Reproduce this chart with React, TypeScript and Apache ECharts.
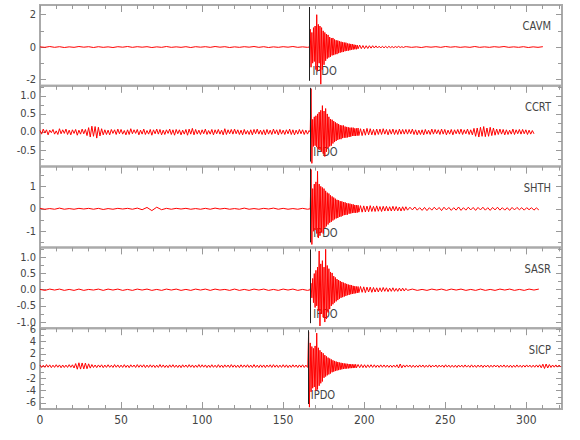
import React, { useEffect, useRef } from "react";
import * as echarts from "echarts";

// ---------- data ----------
const stations = ["CAVM", "CCRT", "SHTH", "SASR", "SICP"];
const pickName = "IPDO";
const pickTimes = [166.2, 166.7, 166.7, 166.7, 165.2];
const traceEnds = [311, 305, 308, 308, 322];
const preSteps = [3, 1, 3, 3, 1];
const postSteps = [3, 1, 1.5, 3, 1];
const eventStep = 0.5;
const codaStep = 1;
const eventSpan = 30;
const codaSpan = 30;

const xMin = 0;
const xMax = 322;
const xMajorTicks = [0, 50, 100, 150, 200, 250, 300];
const xMinorTicks = [10, 20, 30, 40, 60, 70, 80, 90, 110, 120, 130, 140, 160, 170, 180, 190, 210, 220, 230, 240, 260, 270, 280, 290, 310, 320];

const yMins = [-2.4, -0.96, -1.72, -1.19, -7.0];
const yMaxs = [2.6, 1.28, 1.88, 1.31, 6.2];
const yMajorTicks = [[-2, 0, 2], [-0.5, 0, 0.5, 1], [-1, 0, 1], [-1, -0.5, 0, 0.5, 1], [-6, -4, -2, 0, 2, 4, 6]];
const yMinorTicks = [[-1, 1], [-0.75, -0.25, 0.25, 0.75, 1.25], [-1.5, -0.5, 0.5, 1.5], [-0.75, -0.25, 0.25, 0.75, 1.25], [-5, -3, -1, 1, 3, 5]];
const yLabelDecimals = [0, 1, 0, 1, 0];

// CAVM
const cavmPre = [0.01, -0.02, 0.03, -0.02, 0.02, -0.03, 0.01, -0.02, 0.03, -0.01, 0.02, -0.03, 0.02, -0.02, 0.01, -0.03, 0.02, -0.01, 0.03, -0.02, 0.02, -0.01, 0.02, -0.03, 0.01, -0.02, 0.03, -0.02, 0.01, -0.02, 0.02, -0.03, 0.02, -0.01, 0.02, -0.02, 0.03, -0.01, 0.02, -0.03, 0.01, -0.02, 0.02, -0.01, 0.03, -0.02, 0.02, -0.03, 0.01, -0.02, 0.02, -0.01, 0.03, -0.02, 0.01, -0.02];
const cavmEvent = [0, 1.1, -1.25, 0.9, -1.0, 1.2, -0.9, 1.3, -1.4, 2.0, -1.5, 1.4, -1.0, 1.3, -2.3, 1.2, -1.4, 1.0, -1.1, 0.9, -0.85, 0.8, -0.72, 0.75, -0.65, 0.62, -0.6, 0.55, -0.52, 0.56, -0.5, 0.47, -0.45, 0.42, -0.44, 0.4, -0.38, 0.36, -0.35, 0.33, -0.32, 0.3, -0.31, 0.28, -0.26, 0.27, -0.24, 0.22, -0.23, 0.21, -0.2, 0.19, -0.17, 0.18, -0.16, 0.15, -0.14, 0.13, -0.14, 0.12];
const cavmCoda = [-0.11, 0.12, -0.1, 0.09, -0.1, 0.08, -0.09, 0.08, -0.07, 0.08, -0.06, 0.07, -0.06, 0.05, -0.06, 0.05, -0.05, 0.04, -0.05, 0.04, -0.04, 0.03, -0.04, 0.03, -0.03, 0.04, -0.03, 0.02, -0.03, 0.02];
const cavmPost = [0.02, -0.02, 0.01, -0.03, 0.02, -0.01, 0.02, -0.02, 0.03, -0.01, 0.02, -0.02, 0.01, -0.02, 0.03, -0.02, 0.01, -0.02, 0.02, -0.01, 0.03, -0.02, 0.01, -0.02, 0.02, -0.03, 0.01, -0.02, 0.02];

// CCRT
const ccrtPre = [
  0.04, -0.06, 0.08, -0.03, 0.06, -0.08, 0.05, -0.02, 0.07, -0.06,
  0.03, -0.07, 0.09, -0.05, 0.06, -0.04, 0.08, -0.07, 0.05, -0.08,
  0.06, -0.04, 0.07, -0.09, 0.05, -0.06, 0.08, -0.05, 0.07, -0.1,
  0.12, -0.14, 0.16, -0.12, 0.15, -0.17, 0.13, -0.11, 0.09, -0.08,
  0.06, -0.07, 0.05, -0.08, 0.07, -0.04, 0.06, -0.07, 0.08, -0.05,
  0.07, -0.06, 0.04, -0.08, 0.06, -0.07, 0.09, -0.05, 0.06, -0.04,
  0.07, -0.08, 0.05, -0.06, 0.08, -0.07, 0.04, -0.06, 0.07, -0.09,
  0.06, -0.05, 0.08, -0.06, 0.07, -0.08, 0.05, -0.07, 0.06, -0.04,
  0.08, -0.07, 0.06, -0.09, 0.07, -0.05, 0.06, -0.08, 0.05, -0.06,
  0.07, -0.09, 0.08, -0.06, 0.1, -0.08, 0.07, -0.06, 0.05, -0.07,
  0.06, -0.05, 0.08, -0.07, 0.04, -0.06, 0.07, -0.08, 0.06, -0.05,
  0.07, -0.06, 0.05, -0.08, 0.09, -0.07, 0.06, -0.05, 0.07, -0.06,
  0.08, -0.05, 0.06, -0.07, 0.05, -0.08, 0.07, -0.06, 0.04, -0.07,
  0.06, -0.08, 0.07, -0.05, 0.08, -0.06, 0.05, -0.07, 0.06, -0.08,
  0.07, -0.06, 0.05, -0.07, 0.08, -0.05, 0.06, -0.08, 0.07, -0.06,
  0.05, -0.07, 0.06, -0.05, 0.08, -0.07, 0.06, -0.08, 0.05, -0.06,
  0.07, -0.05, 0.06, -0.07, 0.05, -0.06, 0.04,
];
const ccrtEvent = [0, 1.2, -0.87, 0.35, -0.4, 0.42, -0.38, 0.45, -0.42, 0.5, -0.48, 0.55, -0.5, 0.6, -0.55, 0.73, -0.6, 0.58, -0.68, 0.65, -0.55, 0.5, -0.45, 0.42, -0.4, 0.36, -0.38, 0.34, -0.32, 0.3, -0.28, 0.27, -0.25, 0.24, -0.22, 0.22, -0.2, 0.19, -0.2, 0.18, -0.17, 0.18, -0.16, 0.15, -0.16, 0.14, -0.15, 0.13, -0.14, 0.12, -0.13, 0.12, -0.11, 0.12, -0.11, 0.1, -0.11, 0.1, -0.1, 0.11];
const ccrtCoda = [-0.1, 0.09, -0.1, 0.08, -0.09, 0.1, -0.08, 0.09, -0.08, 0.07, -0.09, 0.08, -0.07, 0.08, -0.07, 0.09, -0.06, 0.07, -0.08, 0.07, -0.06, 0.08, -0.07, 0.06, -0.07, 0.08, -0.06, 0.07, -0.06, 0.07];
const ccrtPost = [
  -0.06, 0.07, -0.05, 0.08, -0.07, 0.06, -0.08, 0.05, -0.07, 0.06,
  -0.08, 0.07, -0.06, 0.05, -0.07, 0.08, -0.06, 0.07, -0.05, 0.06,
  -0.07, 0.08, -0.06, 0.07, -0.08, 0.05, -0.06, 0.07, -0.08, 0.06,
  -0.05, 0.07, -0.06, 0.08, -0.07, 0.06, -0.05, 0.08, -0.07, 0.06,
  -0.08, 0.1, -0.12, 0.11, -0.14, 0.13, -0.12, 0.15, -0.13, 0.11,
  -0.12, 0.13, -0.1, 0.11, -0.09, 0.08, -0.07, 0.08, -0.06, 0.07,
  -0.08, 0.06, -0.07, 0.05, -0.06, 0.08, -0.07, 0.06, -0.05, 0.07,
  -0.06, 0.07, -0.05, 0.06, -0.07, 0.05, -0.06, 0.04, -0.05,
];

// SHTH
const shthPre = [0.02, -0.02, 0.01, -0.02, 0.03, -0.02, 0.01, -0.02, 0.02, -0.01, 0.02, -0.02, 0.02, -0.03, 0.01, -0.02, 0.02, -0.01, 0.02, -0.02, 0.03, -0.04, 0.06, -0.08, 0.07, -0.04, 0.02, -0.02, 0.02, -0.01, 0.02, -0.02, 0.01, -0.02, 0.02, -0.02, 0.03, -0.01, 0.02, -0.02, 0.01, -0.02, 0.03, -0.02, 0.01, -0.02, 0.02, -0.01, 0.03, -0.02, 0.02, -0.02, 0.01, -0.02, 0.02, -0.02];
const shthEvent = [0, 1.75, -1.59, 0.9, -1.0, 1.1, -0.95, 1.2, -1.1, 1.67, -1.3, 1.1, -1.2, 1.0, -1.05, 0.95, -1.1, 0.9, -0.85, 0.8, -0.78, 0.72, -0.7, 0.68, -0.62, 0.6, -0.58, 0.55, -0.52, 0.5, -0.47, 0.45, -0.43, 0.4, -0.41, 0.38, -0.36, 0.34, -0.35, 0.33, -0.31, 0.3, -0.28, 0.29, -0.27, 0.25, -0.26, 0.24, -0.22, 0.23, -0.21, 0.2, -0.19, 0.2, -0.18, 0.17, -0.18, 0.16, -0.17, 0.16];
const shthCoda = [-0.15, 0.14, -0.15, 0.13, -0.14, 0.12, -0.13, 0.14, -0.12, 0.11, -0.12, 0.13, -0.11, 0.1, -0.12, 0.11, -0.1, 0.11, -0.1, 0.09, -0.1, 0.11, -0.09, 0.1, -0.09, 0.08, -0.1, 0.09, -0.08, 0.09];
const shthPost = [
  -0.06, 0.07, -0.05, 0.08, -0.06, 0.05, -0.07, 0.06, -0.08, 0.05,
  -0.06, 0.07, -0.05, 0.06, -0.08, 0.07, -0.05, 0.06, -0.07, 0.05,
  -0.06, 0.08, -0.07, 0.05, -0.06, 0.07, -0.05, 0.06, -0.07, 0.06,
  -0.05, 0.07, -0.06, 0.05, -0.07, 0.06, -0.05, 0.07, -0.06, 0.05,
  -0.06, 0.05, -0.07, 0.06, -0.05, 0.06, -0.04, 0.05, -0.06, 0.05,
  -0.04, 0.05, -0.06, 0.04, -0.05,
];

// SASR
const sasrPre = [0.01, -0.02, 0.02, -0.01, 0.02, -0.02, 0.01, -0.02, 0.02, -0.02, 0.01, -0.01, 0.02, -0.02, 0.02, -0.01, 0.02, -0.02, 0.01, -0.02, 0.02, -0.01, 0.02, -0.02, 0.01, -0.02, 0.02, -0.01, 0.02, -0.02, 0.01, -0.02, 0.02, -0.01, 0.02, -0.02, 0.02, -0.01, 0.01, -0.02, 0.02, -0.02, 0.01, -0.02, 0.02, -0.01, 0.02, -0.02, 0.01, -0.02, 0.02, -0.01, 0.02, -0.02, 0.01, -0.02];
const sasrEvent = [0, 0.2, -0.25, 0.35, -0.4, 0.5, -0.55, 0.6, -0.5, 0.7, -0.65, 1.2, -1.12, 0.8, -0.75, 0.9, -0.85, 0.7, -1.0, 1.25, -0.9, 0.75, -0.7, 0.65, -0.6, 0.55, -0.5, 0.52, -0.45, 0.42, -0.4, 0.38, -0.36, 0.33, -0.32, 0.3, -0.28, 0.27, -0.25, 0.24, -0.23, 0.22, -0.21, 0.2, -0.19, 0.18, -0.17, 0.16, -0.16, 0.15, -0.14, 0.14, -0.13, 0.12, -0.12, 0.11, -0.11, 0.1, -0.1, 0.1];
const sasrCoda = [-0.09, 0.1, -0.08, 0.09, -0.09, 0.08, -0.07, 0.08, -0.08, 0.07, -0.07, 0.06, -0.07, 0.06, -0.06, 0.07, -0.05, 0.06, -0.06, 0.05, -0.05, 0.06, -0.05, 0.04, -0.05, 0.05, -0.04, 0.05, -0.04, 0.04];
const sasrPost = [-0.02, 0.02, -0.02, 0.01, -0.02, 0.02, -0.01, 0.02, -0.02, 0.02, -0.01, 0.02, -0.02, 0.01, -0.02, 0.02, -0.02, 0.01, -0.02, 0.02, -0.01, 0.02, -0.02, 0.01, -0.02, 0.02, -0.01, 0.02];

// SICP
const sicpPre = [
  0.18, -0.22, 0.15, -0.2, 0.25, -0.17, 0.21, -0.24, 0.16, -0.2,
  0.23, -0.18, 0.2, -0.26, 0.19, -0.22, 0.17, -0.21, 0.24, -0.19,
  0.22, -0.3, 0.42, -0.5, 0.55, -0.48, 0.52, -0.45, 0.5, -0.42,
  0.38, -0.32, 0.26, -0.22, 0.19, -0.24, 0.2, -0.17, 0.22, -0.25,
  0.18, -0.2, 0.23, -0.19, 0.16, -0.22, 0.25, -0.18, 0.2, -0.23,
  0.17, -0.21, 0.24, -0.2, 0.18, -0.25, 0.22, -0.16, 0.19, -0.22,
  0.25, -0.19, 0.21, -0.17, 0.23, -0.24, 0.18, -0.2, 0.22, -0.18,
  0.2, -0.23, 0.17, -0.21, 0.26, -0.19, 0.2, -0.22, 0.16, -0.24,
  0.21, -0.18, 0.23, -0.2, 0.17, -0.22, 0.19, -0.25, 0.22, -0.17,
  0.19, -0.21, 0.24, -0.18, 0.2, -0.23, 0.17, -0.2, 0.25, -0.19,
  0.22, -0.17, 0.2, -0.24, 0.18, -0.21, 0.23, -0.19, 0.16, -0.22,
  0.24, -0.2, 0.18, -0.23, 0.21, -0.17, 0.19, -0.22, 0.25, -0.18,
  0.2, -0.21, 0.17, -0.24, 0.22, -0.19, 0.2, -0.18, 0.23, -0.21,
  0.18, -0.22, 0.25, -0.2, 0.17, -0.23, 0.21, -0.19, 0.2, -0.24,
  0.19, -0.17, 0.22, -0.21, 0.24, -0.18, 0.2, -0.22, 0.17, -0.2,
  0.23, -0.19, 0.21, -0.24, 0.18, -0.2, 0.22, -0.17, 0.19, -0.23,
  0.2, -0.18, 0.22, -0.21, 0.17, -0.2,
];
const sicpEvent = [0, 5.6, -6.7, 3.8, -4.2, 3.2, -3.6, 2.9, -3.4, 3.3, -4.0, 5.4, -3.8, 3.0, -3.2, 2.6, -2.8, 2.3, -2.5, 2.1, -1.9, 1.8, -1.7, 1.6, -1.5, 1.4, -1.35, 1.25, -1.2, 1.1, -1.0, 0.95, -0.9, 0.85, -0.8, 0.75, -0.72, 0.68, -0.65, 0.6, -0.58, 0.55, -0.52, 0.5, -0.47, 0.45, -0.43, 0.42, -0.4, 0.38, -0.37, 0.35, -0.34, 0.33, -0.32, 0.3, -0.31, 0.29, -0.28, 0.3];
const sicpCoda = [-0.28, 0.27, -0.25, 0.26, -0.24, 0.23, -0.25, 0.22, -0.21, 0.23, -0.2, 0.22, -0.21, 0.19, -0.2, 0.21, -0.18, 0.2, -0.19, 0.18, -0.2, 0.17, -0.19, 0.18, -0.17, 0.22, -0.3, 0.35, -0.28, 0.2];
const sicpPost = [
  -0.17, 0.2, -0.15, 0.18, -0.21, 0.16, -0.19, 0.14, -0.18, 0.2,
  -0.16, 0.19, -0.2, 0.15, -0.17, 0.21, -0.18, 0.16, -0.14, 0.19,
  -0.2, 0.17, -0.15, 0.18, -0.19, 0.22, -0.16, 0.17, -0.2, 0.15,
  -0.18, 0.16, -0.21, 0.19, -0.15, 0.17, -0.18, 0.2, -0.16, 0.14,
  -0.19, 0.21, -0.17, 0.15, -0.2, 0.18, -0.16, 0.19, -0.21, 0.17,
  -0.15, 0.18, -0.2, 0.16, -0.17, 0.19, -0.14, 0.18, -0.2, 0.17,
  -0.16, 0.2, -0.18, 0.15, -0.19, 0.17, -0.21, 0.16, -0.18, 0.2,
  -0.17, 0.15, -0.19, 0.18, -0.16, 0.2, -0.15, 0.17, -0.19, 0.16,
  -0.18, 0.2, -0.17, 0.22, -0.26, 0.32, -0.38, 0.35, -0.3, 0.26,
  -0.22, 0.19, -0.17, 0.2, -0.16, 0.18, -0.15,
];

const preValues = [cavmPre, ccrtPre, shthPre, sasrPre, sicpPre];
const eventValues = [cavmEvent, ccrtEvent, shthEvent, sasrEvent, sicpEvent];
const codaValues = [cavmCoda, ccrtCoda, shthCoda, sasrCoda, sicpCoda];
const postValues = [cavmPost, ccrtPost, shthPost, sasrPost, sicpPost];

// ---------- layout / style ----------
const LEFT = 40;
const RIGHT = 18;
const TOP = 5;
const PANEL_H = 80.8;
const FONT = "'Liberation Sans Narrow', 'DejaVu Sans Condensed', 'Liberation Sans', sans-serif";
const TEXT = "#444";
const FRAME = "#aaa";
const TICK = "#999";

function buildTrace(i: number): number[][] {
  const p = pickTimes[i];
  const segs = [
    { t0: 0, dt: preSteps[i], v: preValues[i] },
    { t0: p, dt: eventStep, v: eventValues[i] },
    { t0: p + eventSpan, dt: codaStep, v: codaValues[i] },
    { t0: p + eventSpan + codaSpan, dt: postSteps[i], v: postValues[i] },
  ];
  const out: number[][] = [];
  segs.forEach((s, k) => {
    const end = k < segs.length - 1 ? segs[k + 1].t0 : Infinity;
    s.v.forEach((val, j) => {
      const t = s.t0 + j * s.dt;
      if (t < end && t <= traceEnds[i]) out.push([Math.round(t * 100) / 100, val]);
    });
  });
  return out;
}

function buildOption() {
  const n = stations.length;
  const grids: any[] = [];
  const xAxes: any[] = [];
  const yAxes: any[] = [];
  const series: any[] = [];
  const tickStyle = { color: TICK, width: 1 };

  stations.forEach((name, i) => {
    grids.push({
      left: LEFT,
      right: RIGHT,
      top: TOP + i * PANEL_H,
      height: PANEL_H,
      show: true,
      borderColor: FRAME,
      borderWidth: 2,
      backgroundColor: "transparent",
    });

    const xBase = {
      gridIndex: i,
      type: "value",
      min: xMin,
      max: xMax,
      axisLine: { show: false, onZero: false },
      splitLine: { show: false },
      axisLabel: { show: false },
    };
    const xMain = xAxes.length;
    xAxes.push({
      ...xBase,
      position: "top",
      axisTick: { show: true, inside: true, length: 7, customValues: xMajorTicks, lineStyle: tickStyle },
    });
    xAxes.push({
      ...xBase,
      position: "top",
      axisTick: { show: true, inside: true, length: 4, customValues: xMinorTicks, lineStyle: tickStyle },
    });
    if (i === n - 1) {
      xAxes.push({
        ...xBase,
        position: "bottom",
        axisTick: { show: true, inside: true, length: 7, customValues: xMajorTicks, lineStyle: tickStyle },
        axisLabel: {
          show: true,
          customValues: xMajorTicks,
          margin: 5,
          color: TEXT,
          fontFamily: FONT,
          fontSize: 12,
        },
      });
      xAxes.push({
        ...xBase,
        position: "bottom",
        axisTick: { show: true, inside: true, length: 4, customValues: xMinorTicks, lineStyle: tickStyle },
      });
    }

    const yBase = {
      gridIndex: i,
      type: "value",
      min: yMins[i],
      max: yMaxs[i],
      axisLine: { show: false, onZero: false },
      splitLine: { show: false },
      axisLabel: { show: false },
    };
    const yMain = yAxes.length;
    const dec = yLabelDecimals[i];
    yAxes.push({
      ...yBase,
      position: "left",
      axisTick: { show: true, inside: true, length: 6, customValues: yMajorTicks[i], lineStyle: tickStyle },
      axisLabel: {
        show: true,
        customValues: yMajorTicks[i],
        margin: 4,
        color: TEXT,
        fontFamily: FONT,
        fontSize: 11,
        lineHeight: 11,
        formatter: (v: number) => v.toFixed(dec),
      },
    });
    yAxes.push({
      ...yBase,
      position: "left",
      axisTick: { show: true, inside: true, length: 4, customValues: yMinorTicks[i], lineStyle: tickStyle },
    });
    yAxes.push({
      ...yBase,
      position: "right",
      axisTick: { show: true, inside: true, length: 6, customValues: yMajorTicks[i], lineStyle: tickStyle },
    });
    yAxes.push({
      ...yBase,
      position: "right",
      axisTick: { show: true, inside: true, length: 4, customValues: yMinorTicks[i], lineStyle: tickStyle },
    });

    const span = yMaxs[i] - yMins[i];
    const p = pickTimes[i];
    series.push({
      name,
      type: "line",
      xAxisIndex: xMain,
      yAxisIndex: yMain,
      data: buildTrace(i),
      symbol: "none",
      showSymbol: false,
      silent: true,
      lineStyle: { color: "#ff0000", width: 1 },
      z: 2,
      markLine: {
        silent: true,
        symbol: ["none", "none"],
        label: { show: false },
        lineStyle: { color: "#222", width: 1, type: "solid" },
        z: 3,
        data: [
          [
            { coord: [p, yMaxs[i] - (span * 2) / PANEL_H] },
            { coord: [p, yMins[i] + (span * 5) / PANEL_H] },
          ],
        ],
      },
    });
  });

  return {
    animation: false,
    backgroundColor: "#ffffff",
    grid: grids,
    xAxis: xAxes,
    yAxis: yAxes,
    series,
  };
}

export default function App() {
  const ref = useRef<HTMLDivElement>(null);

  useEffect(() => {
    if (!ref.current) return;
    const chart = echarts.init(ref.current, undefined, { renderer: "svg" });
    chart.setOption(buildOption() as any);

    const graphics: any[] = [];
    stations.forEach((name, i) => {
      const top = TOP + i * PANEL_H;
      graphics.push({
        type: "text",
        x: 551,
        y: top + 21,
        scaleX: 0.85,
        silent: true,
        style: {
          text: name,
          fill: TEXT,
          fontFamily: FONT,
          fontSize: 13,
          align: "right",
          verticalAlign: "middle",
        },
      });
      const pt = chart.convertToPixel({ seriesIndex: i } as any, [pickTimes[i], 0]) as number[];
      graphics.push({
        type: "text",
        x: pt[0] + 3,
        y: top + 66,
        scaleX: 0.85,
        silent: true,
        style: {
          text: pickName,
          fill: TEXT,
          fontFamily: FONT,
          fontSize: 13,
          align: "left",
          verticalAlign: "middle",
        },
      });
    });
    chart.setOption({ graphic: graphics } as any);

    return () => {
      chart.dispose();
    };
  }, []);

  return (
    <div
      ref={ref}
      style={{ position: "fixed", left: 0, top: 0, width: 580, height: 440, background: "#fff" }}
    />
  );
}
